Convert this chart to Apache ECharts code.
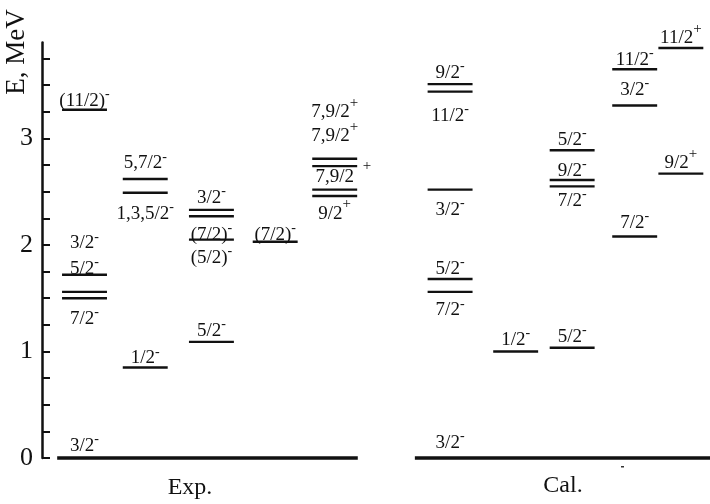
<!DOCTYPE html>
<html>
<head>
<meta charset="utf-8">
<script src="https://cdn.jsdelivr.net/npm/echarts@6/dist/echarts.min.js"></script>
<style>
html, body { margin: 0; padding: 0; background: #fff; }
#chart { width: 710px; height: 504px; }
</style>
</head>
<body>
<div id="chart"></div>
<script>
// column centres on the hidden x axis (0-4 Exp., 5-9 Cal.)
var columnX = [0.70, 1.70, 2.79, 3.84, 4.82, 6.72, 7.80, 8.73, 9.76, 10.52];
var groupName = ['Exp.', 'Cal.'];
var groupCols = [[0, 4], [5, 9]];

// excited levels, MeV
var levelCol = [0, 0, 0, 0, 1, 1, 1, 2, 2, 2, 2, 3, 4, 4, 4, 4,
                5, 5, 5, 5, 5, 6, 7, 7, 7, 7, 8, 8, 8, 9, 9];
var levelE = [3.27, 1.72, 1.56, 1.50, 2.62, 2.49, 0.85, 2.33, 2.27, 2.05, 1.09, 2.03, 2.81, 2.74, 2.52, 2.46,
              3.51, 3.44, 2.52, 1.68, 1.56, 1.00, 2.89, 2.61, 2.55, 1.035, 3.65, 3.31, 2.08, 3.85, 2.67];

// spin-parity labels ("^" starts the superscript)
var labelCol = [0, 0, 0, 0, 0, 1, 1, 1, 2, 2, 2, 2, 3, 4, 4, 4, 4,
                5, 5, 5, 5, 5, 5, 6, 7, 7, 7, 7, 8, 8, 8, 9, 9];
var labelE = [3.36, 2.02, 1.78, 1.31, 0.12, 2.77, 2.30, 0.94, 2.45, 2.10, 1.88, 1.20, 2.10, 3.25, 3.03, 2.64, 2.30,
              3.62, 3.22, 2.33, 1.78, 1.39, 0.15, 1.11, 2.99, 2.70, 2.42, 1.14, 3.74, 3.46, 2.21, 3.95, 2.77];
var labelText = ['(11/2)^-', '3/2^-', '5/2^-', '7/2^-', '3/2^-', '5,7/2^-', '1,3,5/2^-', '1/2^-',
                 '3/2^-', '(7/2)^-', '(5/2)^-', '5/2^-', '(7/2)^-', '7,9/2^+', '7,9/2^+', '7,9/2', '9/2^+',
                 '9/2^-', '11/2^-', '3/2^-', '5/2^-', '7/2^-', '3/2^-', '1/2^-',
                 '5/2^-', '9/2^-', '7/2^-', '5/2^-', '11/2^-', '3/2^-', '7/2^-', '11/2^+', '9/2^+'];
// the loose "+" belonging to the third 7,9/2 level
var loosePlusX = 5.35;
var loosePlusE = 2.63;

var yMajor = [0, 1, 2, 3];
var yTicks = [0, 0.25, 0.5, 0.75, 1, 1.25, 1.5, 1.75, 2, 2.25, 2.5, 2.75, 3, 3.25, 3.5, 3.75];

var FONT = 'Liberation Serif';
var HALF = 0.37;          // half length of a level line, x units
var groundPad = [[0.45, 0.38], [0.58, 0.48]];

var rich = {
    n: { fontFamily: FONT, fontSize: 19, lineHeight: 20, verticalAlign: 'bottom', fill: '#111' },
    s: { fontFamily: FONT, fontSize: 14, lineHeight: 14, padding: [0, 0, 9, 0], verticalAlign: 'bottom', fill: '#111' },
    p: { fontFamily: FONT, fontSize: 15, lineHeight: 14, padding: [0, 0, 11, 0], verticalAlign: 'bottom', fill: '#111' }
};

function richText(t) {
    var parts = t.split('^');
    var out = parts[0] ? '{n|' + parts[0] + '}' : '';
    if (parts.length > 1) {
        out += (parts[1] === '+' ? '{p|' : '{s|') + parts[1] + '}';
    }
    return out;
}

var levelData = levelCol.map(function (c, i) { return [columnX[c], levelE[i]]; });
var labelData = labelCol.map(function (c, i) { return [columnX[c], labelE[i]]; });
labelData.push([loosePlusX, loosePlusE]);
labelText.push('^+');
var groundData = groupCols.map(function (g, i) {
    return [columnX[g[0]] - groundPad[i][0], columnX[g[1]] + groundPad[i][1]];
});

var myChart = echarts.init(document.getElementById('chart'));

var option = {
    animation: false,
    backgroundColor: '#fff',
    grid: { left: 42, right: 0, top: 42.6, bottom: 46 },
    xAxis: { type: 'value', min: 0, max: 11, show: false },
    yAxis: {
        type: 'value',
        min: 0,
        max: 3.9,
        splitLine: { show: false },
        axisLine: { show: true, lineStyle: { color: '#111', width: 2.5 } },
        axisTick: { show: true, inside: true, length: 8, customValues: yTicks, lineStyle: { color: '#111', width: 2 } },
        axisLabel: {
            color: '#111',
            fontFamily: FONT,
            fontSize: 26,
            margin: 9,
            customValues: yMajor
        }
    },
    series: [
        {
            // ground states
            type: 'custom',
            data: groundData,
            renderItem: function (params, api) {
                var a = api.coord([api.value(0), 0]);
                var b = api.coord([api.value(1), 0]);
                return { type: 'line', shape: { x1: a[0], y1: a[1], x2: b[0], y2: b[1] },
                         style: { stroke: '#111', lineWidth: 3.5 } };
            }
        },
        {
            type: 'custom',
            data: levelData,
            renderItem: function (params, api) {
                var p = api.coord([api.value(0), api.value(1)]);
                var half = api.size([HALF, 0])[0];
                return { type: 'line', shape: { x1: p[0] - half, y1: p[1], x2: p[0] + half, y2: p[1] },
                         style: { stroke: '#111', lineWidth: 2.4 } };
            }
        },
        {
            type: 'custom',
            data: labelData,
            renderItem: function (params, api) {
                var p = api.coord([api.value(0), api.value(1)]);
                return {
                    type: 'text', x: p[0], y: p[1],
                    style: { text: richText(labelText[params.dataIndex]), rich: rich,
                             align: 'center', verticalAlign: 'middle', fill: '#111' }
                };
            }
        }
    ],
    graphic: [
        { type: 'text', x: 17, y: 52, rotation: Math.PI / 2,
          style: { text: 'E, MeV', font: '27px "Liberation Serif"', fill: '#111', align: 'center', verticalAlign: 'middle' } },
        { type: 'text', x: 190, y: 488,
          style: { text: groupName[0], font: '24px "Liberation Serif"', fill: '#111', align: 'center', verticalAlign: 'middle' } },
        { type: 'text', x: 563, y: 486,
          style: { text: groupName[1], font: '24px "Liberation Serif"', fill: '#111', align: 'center', verticalAlign: 'middle' } },
        { type: 'rect', shape: { x: 621, y: 466, width: 3, height: 1.5 }, style: { fill: '#333' } }
    ]
};

myChart.setOption(option);
</script>
</body>
</html>
